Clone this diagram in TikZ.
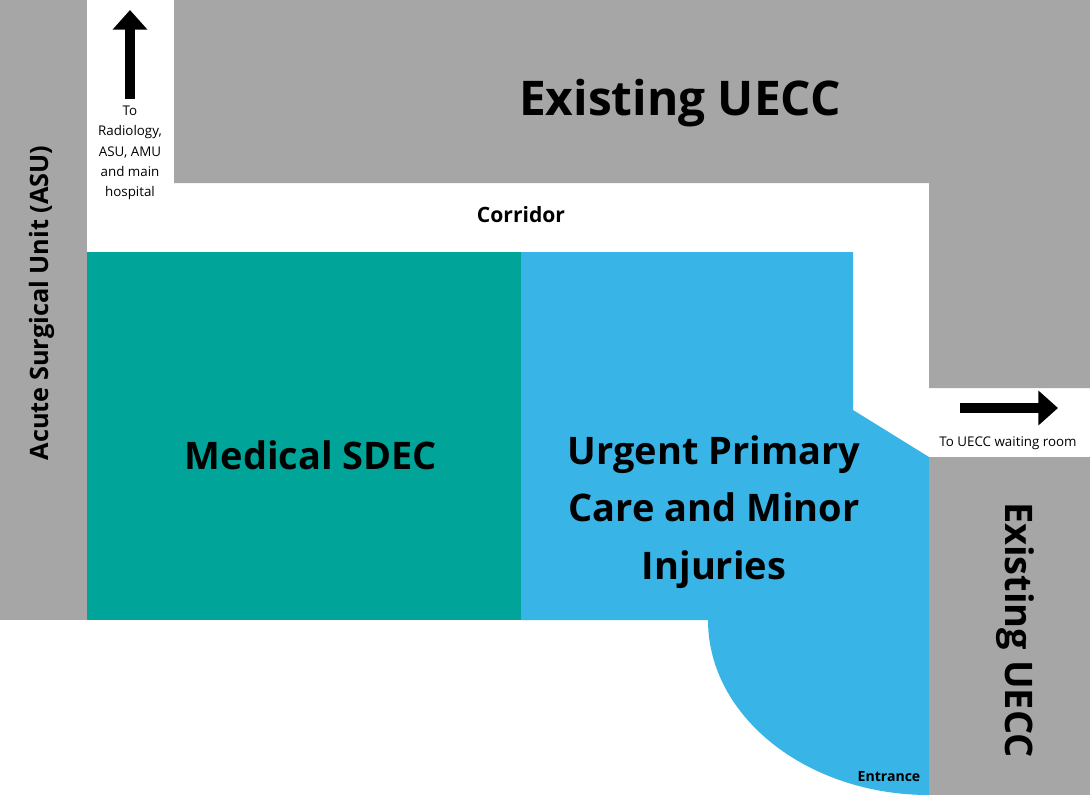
\documentclass[tikz,border=0pt]{standalone}
\usepackage{fontspec}
\setmainfont{Open Sans}
\usepackage{xcolor}
\definecolor{wallgrey}{HTML}{A6A6A6}
\definecolor{sdecgreen}{HTML}{00A499}
\definecolor{upcblue}{HTML}{38B4E6}
\tikzset{
    bigtitle/.style={font=\fontsize{34}{40}\selectfont\bfseries},
    roomtitle/.style={font=\fontsize{27}{40}\selectfont\bfseries, align=center},
    smalltext/.style={font=\fontsize{9.5}{14.5}\selectfont, align=center},
    bigarrow/.style={line width=7pt, -{Triangle[length=14pt,width=24pt]}}
}
\usetikzlibrary{arrows.meta}
\begin{document}
\begin{tikzpicture}[x=0.025cm, y=-0.025cm]
    % Background
    \fill[white] (0,0) rectangle (1090,795);
    \useasboundingbox (0,0) rectangle (1090,795);

    % Existing buildings
    \fill[wallgrey] (0,0) rectangle (87,620);
    \fill[wallgrey] (174,0) -- (1090,0) -- (1090,388) -- (929,388) -- (929,183) -- (174,183) -- cycle;
    \fill[wallgrey] (929,457) rectangle (1090,795);

    % New rooms
    \fill[sdecgreen] (87,252) rectangle (521,620);
    \fill[upcblue] (521,252) -- (853,252) -- (853,410) -- (929,457) -- (929,795)
        arc[start angle=270, end angle=180, x radius=221, y radius=-175] -- (521,620) -- cycle;

    % Labels
    \node[bigtitle] (uecctop) at (680,103) {Existing UECC};
    \node[font=\fontsize{15}{18}\selectfont\bfseries] (corridor) at (521,215) {Corridor};
    \node[roomtitle] (sdec) at (311,455) {Medical SDEC};
    \node[roomtitle, font=\fontsize{27}{41}\selectfont\bfseries] (upc) at (714,512) {Urgent Primary\\Care and Minor\\Injuries};
    \node[bigtitle, font=\fontsize{27}{40}\selectfont\bfseries, rotate=-90] (ueccside) at (1015,630) {Existing UECC};
    \node[font=\fontsize{18}{22}\selectfont\bfseries, rotate=90] (asu) at (42,303) {Acute Surgical Unit (ASU)};
    \node[smalltext] (radiology) at (130,153) {To\\Radiology,\\ASU, AMU\\and main\\hospital};
    \node[smalltext] (waiting) at (1008,443) {To UECC waiting room};
    \node[font=\fontsize{10}{12}\selectfont\bfseries] (entrance) at (889,777) {Entrance};

    % Arrows
    \coordinate (uptip) at (130,10);
    \coordinate (rightstart) at (960,408);
    \coordinate (righttip) at (1058,408);
    \draw[bigarrow] (radiology.north) ++(0,-2) -- (uptip);
    \draw[bigarrow] (rightstart) -- (righttip);
\end{tikzpicture}
\end{document}
